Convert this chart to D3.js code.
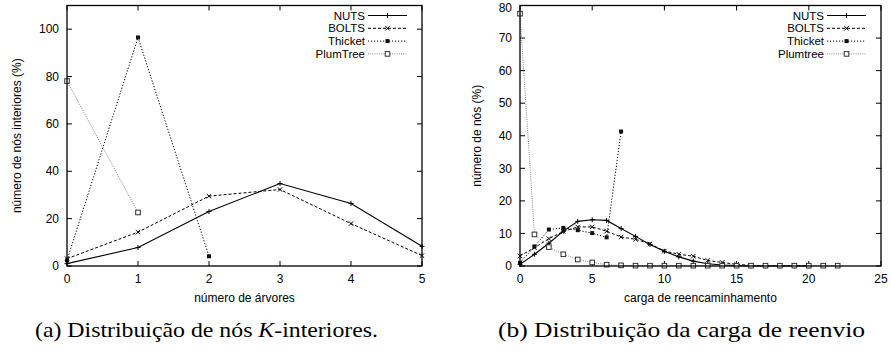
<!DOCTYPE html>
<html>
<head>
<meta charset="utf-8">
<script src="https://cdn.jsdelivr.net/npm/d3@7"></script>
<style>
  body { margin: 0; background: #fff; }
  svg text { font-family: "Liberation Sans", Arial, sans-serif; }
  .caption { font-family: "Liberation Serif", "DejaVu Serif", serif; }
</style>
</head>
<body>
<svg id="chart" width="891" height="352"></svg>
<script>
// (a) interior nodes per number of trees
const treeCounts = [0, 1, 2, 3, 4, 5];
const nutsInterior = [1, 7.8, 23, 34.8, 26.4, 8.3];
const boltsInterior = [3.1, 14.3, 29.5, 32.3, 17.9, 4.4];
const thicketInterior = [2.4, 96.5, 4.1];
const plumInterior = [78.1, 22.6];

// (b) forwarding load
const loads = d3.range(0, 23);
const nutsLoad = [0.5, 3.6, 7.0, 10.7, 13.7, 14.2, 14.0, 11.5, 9.1, 6.6, 4.5, 2.8, 1.5, 0.7, 0.3, 0.1, 0, 0, 0, 0, 0];
const boltsLoad = [3.1, 5.6, 8.4, 10.6, 12.0, 12.0, 10.7, 8.9, 8.2, 6.8, 4.6, 3.6, 3.0, 1.7, 1.1, 0.5, 0.2, 0.1, 0.1, 0.1, 0.1];
const thicketLoad = [1.0, 6.0, 11.2, 11.7, 11.0, 10.1, 8.8, 41.3];
const plumLoad = [77.5, 9.7, 5.8, 3.6, 2.0, 1.1, 0.4, 0.2, 0.1, 0.1, 0.1, 0.1, 0.1, 0.1, 0.1, 0.1, 0.1, 0.1, 0.1, 0.1, 0.1, 0.1, 0.1];

const leftTicksX = [0, 1, 2, 3, 4, 5];
const leftTicksY = [0, 20, 40, 60, 80, 100];
const rightTicksX = [0, 5, 10, 15, 20, 25];
const rightTicksY = [0, 10, 20, 30, 40, 50, 60, 70, 80];

const svg = d3.select("#chart");

const styles = {
  nuts: { stroke: "#000", dash: null, marker: "plus", width: 1.1 },
  bolts: { stroke: "#000", dash: "3,2", marker: "cross", width: 1 },
  thicket: { stroke: "#000", dash: "1.2,1.8", marker: "fsquare", width: 1 },
  plum: { stroke: "#888", dash: "1,1.2", marker: "osquare", width: 1 }
};

function drawMarker(g, type, x, y) {
  if (type === "plus") {
    g.append("path").attr("d", `M${x - 2.5},${y}H${x + 2.5}M${x},${y - 2.5}V${y + 2.5}`)
      .attr("stroke", "#000").attr("stroke-width", 1);
  } else if (type === "cross") {
    g.append("path").attr("d", `M${x - 2.2},${y - 2.2}L${x + 2.2},${y + 2.2}M${x - 2.2},${y + 2.2}L${x + 2.2},${y - 2.2}`)
      .attr("stroke", "#000").attr("stroke-width", 1);
  } else if (type === "fsquare") {
    g.append("rect").attr("x", x - 2).attr("y", y - 2).attr("width", 4).attr("height", 4)
      .attr("fill", "#111");
  } else {
    g.append("rect").attr("x", x - 2.3).attr("y", y - 2.3).attr("width", 4.6).attr("height", 4.6)
      .attr("fill", "#fff").attr("stroke", "#333").attr("stroke-width", 1);
  }
}

function drawPanel(p) {
  const x = d3.scaleLinear().domain(p.xDomain).range([p.left, p.right]);
  const y = d3.scaleLinear().domain(p.yDomain).range([p.bottom, p.top]);
  const g = svg.append("g");

  // ticks (gnuplot style, inward, mirrored)
  const tickLen = 5;
  const ticks = g.append("g").attr("stroke", "#000").attr("stroke-width", 1);
  p.xTicks.forEach(t => {
    ticks.append("line").attr("x1", x(t)).attr("x2", x(t)).attr("y1", p.bottom).attr("y2", p.bottom - tickLen);
    ticks.append("line").attr("x1", x(t)).attr("x2", x(t)).attr("y1", p.top).attr("y2", p.top + tickLen);
    g.append("text").attr("x", x(t)).attr("y", p.bottom + 17).attr("text-anchor", "middle")
      .attr("font-size", 12).text(t);
  });
  p.yTicks.forEach(t => {
    ticks.append("line").attr("x1", p.left).attr("x2", p.left + tickLen).attr("y1", y(t)).attr("y2", y(t));
    ticks.append("line").attr("x1", p.right).attr("x2", p.right - tickLen).attr("y1", y(t)).attr("y2", y(t));
    g.append("text").attr("x", p.left - 8).attr("y", Math.max(y(t), 8)).attr("dy", "0.35em").attr("text-anchor", "end")
      .attr("font-size", 12).text(t);
  });

  // series
  p.series.forEach(s => {
    const st = styles[s.key];
    const pts = s.values.map((v, i) => [s.xs[i], v]);
    const line = d3.line().x(d => x(d[0])).y(d => y(d[1]));
    g.append("path").datum(pts)
      .attr("fill", "none")
      .attr("stroke", st.stroke)
      .attr("stroke-width", st.width)
      .attr("stroke-dasharray", st.dash)
      .attr("d", line);
    pts.forEach(d => drawMarker(g, st.marker, x(d[0]), y(d[1])));
  });

  // border
  g.append("rect").attr("x", p.left).attr("y", p.top)
    .attr("width", p.right - p.left).attr("height", p.bottom - p.top)
    .attr("fill", "none").attr("stroke", "#000").attr("stroke-width", 1.3);

  // legend
  p.series.forEach((s, i) => {
    const st = styles[s.key];
    const ly = p.top + 10 + i * 12.8;
    g.append("text").attr("x", p.right - 57).attr("y", ly).attr("dy", "0.35em")
      .attr("text-anchor", "end").attr("font-size", 11.5).text(s.name);
    g.append("line").attr("x1", p.right - 54).attr("x2", p.right - 15).attr("y1", ly).attr("y2", ly)
      .attr("stroke", st.stroke).attr("stroke-width", st.width).attr("stroke-dasharray", st.dash);
    drawMarker(g, st.marker, p.right - 34.5, ly);
  });

  // axis titles
  g.append("text").attr("x", (p.left + p.right) / 2).attr("y", p.bottom + 36)
    .attr("text-anchor", "middle").attr("font-size", 12).text(p.xLabel);
  g.append("text")
    .attr("transform", `translate(${p.yLabelX},${(p.top + p.bottom) / 2}) rotate(-90)`)
    .attr("text-anchor", "middle").attr("dy", "0.35em").attr("font-size", 12).text(p.yLabel);

  // caption
  g.append("text").attr("class", "caption").attr("x", p.captionX).attr("y", 337)
    .attr("text-anchor", "middle").attr("font-size", 21)
    .attr("textLength", p.captionWidth).attr("lengthAdjust", "spacingAndGlyphs")
    .html(p.caption);
}

drawPanel({
  left: 67, right: 422, top: 5.5, bottom: 266,
  xDomain: [0, 5], yDomain: [0, 110],
  xTicks: leftTicksX, yTicks: leftTicksY,
  xLabel: "número de árvores", yLabel: "número de nós interiores (%)", yLabelX: 17,
  captionX: 206.5, captionWidth: 343,
  caption: "(a) Distribuição de nós <tspan font-style='italic'>K</tspan>-interiores.",
  series: [
    { key: "nuts", name: "NUTS", xs: treeCounts, values: nutsInterior },
    { key: "bolts", name: "BOLTS", xs: treeCounts, values: boltsInterior },
    { key: "thicket", name: "Thicket", xs: treeCounts, values: thicketInterior },
    { key: "plum", name: "PlumTree", xs: treeCounts, values: plumInterior }
  ]
});

drawPanel({
  left: 520, right: 881, top: 5.5, bottom: 266,
  xDomain: [0, 25], yDomain: [0, 80],
  xTicks: rightTicksX, yTicks: rightTicksY,
  xLabel: "carga de reencaminhamento", yLabel: "número de nós (%)", yLabelX: 477,
  captionX: 681.5, captionWidth: 367,
  caption: "(b) Distribuição da carga de reenvio",
  series: [
    { key: "nuts", name: "NUTS", xs: loads, values: nutsLoad },
    { key: "bolts", name: "BOLTS", xs: loads, values: boltsLoad },
    { key: "thicket", name: "Thicket", xs: loads, values: thicketLoad },
    { key: "plum", name: "Plumtree", xs: loads, values: plumLoad }
  ]
});
</script>
</body>
</html>
